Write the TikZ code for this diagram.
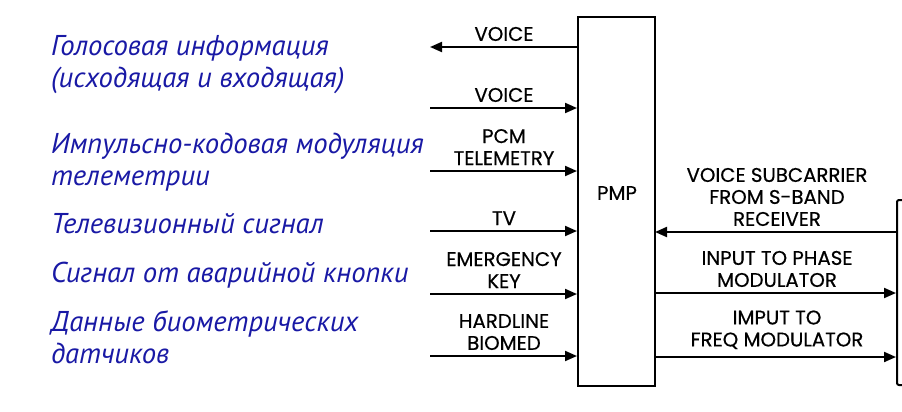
\documentclass[tikz,border=0pt]{standalone}
\usepackage{fontspec}
\usepackage{xcolor}
\usetikzlibrary{arrows.meta,positioning}
\newfontfamily\rufont{PT Sans}
\newfontfamily\capsfont{Poppins}[FakeBold=0.5]
\definecolor{rublue}{RGB}{25,25,165}

\begin{document}
\begin{tikzpicture}[x=0.75pt,y=0.75pt,yscale=-1,xscale=1,
  line width=1.5pt,
  sig/.style={-{Triangle[length=9pt,width=7.5pt]}},
  lbl/.style={font=\capsfont\fontsize{14.8}{16.5}\selectfont, align=center, inner sep=0pt, anchor=south},
  rulbl/.style={font=\rufont\itshape\fontsize{21.5}{23.5}\selectfont, text=rublue, align=left, inner sep=0pt, anchor=base west}]

\clip (0,0) rectangle (902,411);

% blocks
\node (pmp) [draw, minimum width=57.75pt, minimum height=276.75pt, inner sep=0pt] at (616.5,201.5) {};
\node [lbl, anchor=center] at (617,193) {PMP};
\node (xmtr) [draw, rounded corners=1.5pt, minimum width=47.25pt, minimum height=138.75pt] at (928.5,292.5) {};

% left side signals
\coordinate (voiceOut) at (430,47);
\coordinate (voiceIn) at (430,108);
\coordinate (pcm) at (430,171);
\coordinate (tv) at (430,231);
\coordinate (ekey) at (430,294);
\coordinate (biomed) at (430,356);

\draw [sig] (voiceOut -| pmp.west) -- (voiceOut);
\draw [sig] (voiceIn) -- (voiceIn -| pmp.west);
\draw [sig] (pcm) -- (pcm -| pmp.west);
\draw [sig] (tv) -- (tv -| pmp.west);
\draw [sig] (ekey) -- (ekey -| pmp.west);
\draw [sig] (biomed) -- (biomed -| pmp.west);

\node [lbl] at (504,42) {VOICE};
\node [lbl] at (504,103) {VOICE};
\node [lbl] at (504,166) {PCM\\TELEMETRY};
\node [lbl] at (504,226) {TV};
\node [lbl] at (504,289) {EMERGENCY\\KEY};
\node [lbl] at (504,351) {HARDLINE\\BIOMED};

% right side signals
\coordinate (subcar) at (655,232);
\coordinate (phmod) at (655,293);
\coordinate (fmmod) at (655,357);

\draw [sig] (subcar -| xmtr.west) -- (subcar);
\draw [sig] (phmod) -- (phmod -| xmtr.west);
\draw [sig] (fmmod) -- (fmmod -| xmtr.west);

\node [lbl] at (777,227) {VOICE SUBCARRIER\\FROM S-BAND\\RECEIVER};
\node [lbl] at (777,288) {INPUT TO PHASE\\MODULATOR};
\node [lbl] at (777,350) {IMPUT TO\\FREQ MODULATOR};

% russian captions
\node [rulbl] at (50,87) {Голосовая информация\\(исходящая и входящая)};
\node [rulbl] at (50,185) {Импульсно-кодовая модуляция\\телеметрии};
\node [rulbl] at (50,233) {Телевизионный сигнал};
\node [rulbl] at (50,282) {Сигнал от аварийной кнопки};
\node [rulbl] at (50,363) {Данные биометрических\\датчиков};

\end{tikzpicture}
\end{document}
